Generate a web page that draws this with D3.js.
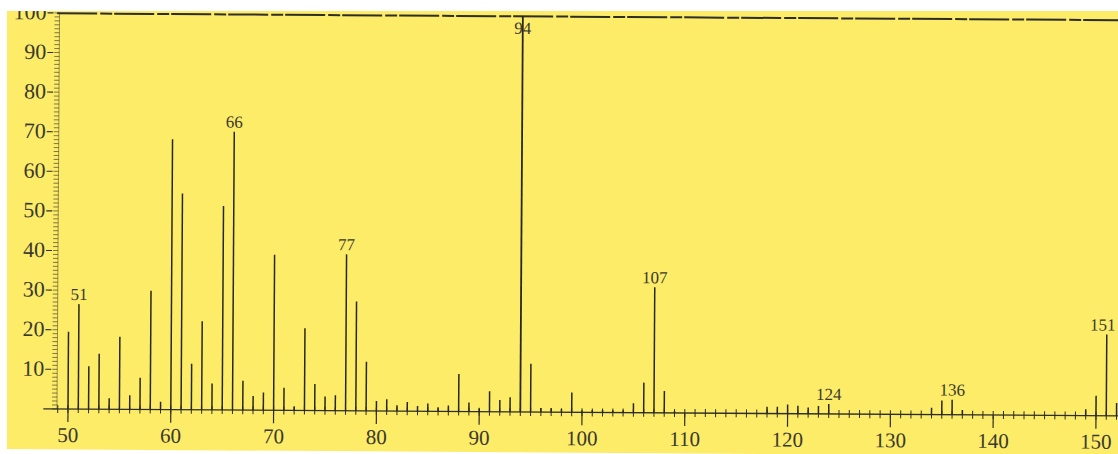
<!DOCTYPE html>
<html>
<head>
<meta charset="utf-8">
<script src="https://cdn.jsdelivr.net/npm/d3@7"></script>
<style>
html,body{margin:0;padding:0;background:#fff;}
svg{display:block;}
</style>
</head>
<body>
<svg id="chart" width="1118" height="454"></svg>
<script>
// m/z values of the peaks
const mz = [50,51,52,53,54,55,56,57,58,59,60,61,62,63,64,65,66,67,68,69,70,71,72,73,74,75,76,77,78,79,
  80,81,82,83,84,85,86,87,88,89,90,91,92,93,94,95,96,97,98,99,100,101,102,103,104,105,106,107,108,109,
  118,119,120,121,122,123,124,134,135,136,137,149,150,151,152];
// relative intensity (%)
const intensity = [19.5,26.5,10.8,14,2.8,18.3,3.6,8,30,2,68.3,54.6,11.6,22.4,6.7,51.5,70.3,7.4,3.6,4.5,39.3,5.7,1,20.8,6.7,3.6,3.9,39.5,27.6,12.4,
  2.5,3,1.5,2.3,1.3,2,1,1.5,9.5,2.3,0.8,5.2,3,3.7,100,12.2,1,1,0.8,5,0.5,0.6,0.6,0.6,0.6,2.4,7.6,31.7,5.5,0.5,
  1.7,1.7,2.3,2,1.6,2,2.5,1.7,3.6,3.8,1.2,1.6,5,20.5,3.2];
// annotated peaks
const labelMz = [51,66,77,94,107,124,136,151];
// axis tick labels
const xTickLabels = [50,60,70,80,90,100,110,120,130,140,150];
const yTickLabels = [10,20,30,40,50,60,70,80,90,100];

const svg = d3.select("#chart");
const ink = "#2e2d26";
const serif = "'Liberation Serif','DejaVu Serif',serif";

// scan background
svg.append("rect").attr("x",0).attr("y",0).attr("width",1118).attr("height",454).attr("fill","#fff");
svg.append("polygon").attr("points","7,11 1118,11 1118,454 770,454 7,449").attr("fill","#fdec68");

const x = d3.scaleLinear().domain([50,150]).range([68,1096]);
const y = d3.scaleLinear().domain([0,100]).range([409,13]);
const y0 = y(0);

const g = svg.append("g").attr("transform","rotate(0.37,68,409)");

// top frame line
g.append("line")
  .attr("x1",x(48.7)).attr("x2",x(152.2))
  .attr("y1",y(99.9)).attr("y2",y(99.9))
  .attr("stroke",ink).attr("stroke-width",2).attr("stroke-dasharray","40,3,12,2");

// y ruler
g.append("line").attr("x1",57).attr("x2",57).attr("y1",y(0)).attr("y2",y(100))
  .attr("stroke",ink).attr("stroke-width",0.8).attr("opacity",0.6);
g.append("g").selectAll("line").data(d3.range(0,101,1)).join("line")
  .attr("x1",52).attr("x2",57).attr("y1",d=>y(d)).attr("y2",d=>y(d))
  .attr("stroke",ink).attr("stroke-width",0.8).attr("opacity",0.75);
g.append("g").selectAll("line").data(yTickLabels).join("line")
  .attr("x1",45).attr("x2",51).attr("y1",d=>y(d)).attr("y2",d=>y(d))
  .attr("stroke",ink).attr("stroke-width",1.1);
g.append("g").selectAll("text").data(yTickLabels).join("text")
  .attr("x",44).attr("y",d=>y(d)).attr("dy","0.3em")
  .attr("text-anchor","end").attr("font-family",serif).attr("font-size",22)
  .attr("fill","#3a392f").text(d=>d);

// x axis baseline
g.append("line").attr("x1",x(47.6)).attr("x2",x(152.3)).attr("y1",y0).attr("y2",y0)
  .attr("stroke",ink).attr("stroke-width",1.3);
g.append("g").selectAll("line").data(d3.range(49,153,1)).join("line")
  .attr("x1",d=>x(d)).attr("x2",d=>x(d)).attr("y1",y0-4).attr("y2",y0+4)
  .attr("stroke",ink).attr("stroke-width",1);
g.append("g").selectAll("line").data(xTickLabels).join("line")
  .attr("x1",d=>x(d)).attr("x2",d=>x(d)).attr("y1",y0).attr("y2",y0+13)
  .attr("stroke",ink).attr("stroke-width",1.2);
g.append("g").selectAll("text").data(xTickLabels).join("text")
  .attr("x",d=>x(d)).attr("y",442)
  .attr("text-anchor","middle").attr("font-family",serif).attr("font-size",21)
  .attr("fill","#3a392f").text(d=>d);

// peaks
const peaks = mz.map((m,i)=>({m, v:intensity[i]}));
g.append("g").selectAll("line").data(peaks).join("line")
  .attr("x1",d=>x(d.m)).attr("x2",d=>x(d.m))
  .attr("y1",y0).attr("y2",d=>y(d.v))
  .attr("stroke","#28271f").attr("stroke-width",d=>d.v>90?1.8:1.5);

// peak labels
const lab = peaks.filter(d=>labelMz.includes(d.m));
g.append("g").selectAll("text").data(lab).join("text")
  .attr("x",d=>x(d.m) - (d.m>150 ? 4 : 0)).attr("y",d=>d.v>95 ? y(d.v)+18 : y(d.v)-4)
  .attr("text-anchor","middle").attr("font-family",serif).attr("font-size",17)
  .attr("fill","#3a392f").text(d=>d.m);

// white scan margins on top
svg.append("rect").attr("x",0).attr("y",0).attr("width",1118).attr("height",11).attr("fill","#fff");
svg.append("rect").attr("x",0).attr("y",0).attr("width",7).attr("height",454).attr("fill","#fff");
</script>
</body>
</html>
